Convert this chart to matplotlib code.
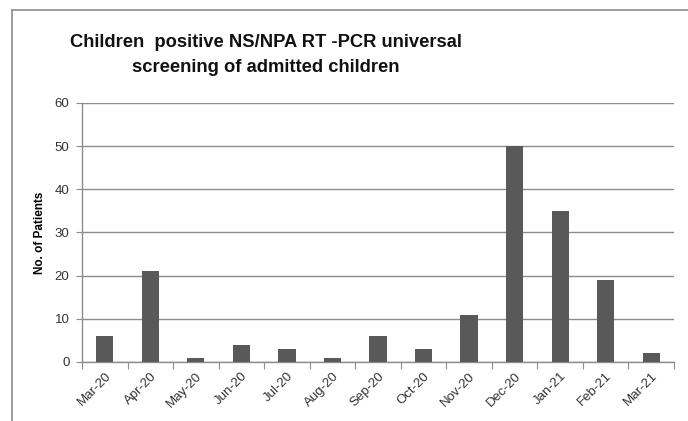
import numpy as np
import matplotlib
matplotlib.use("Agg")
import matplotlib.pyplot as plt
from matplotlib.lines import Line2D

plt.rcParams['font.family'] = ['Liberation Sans', 'DejaVu Sans']

# data
months = ['Mar-20', 'Apr-20', 'May-20', 'Jun-20', 'Jul-20', 'Aug-20', 'Sep-20',
          'Oct-20', 'Nov-20', 'Dec-20', 'Jan-21', 'Feb-21', 'Mar-21']
patients = [6, 21, 1, 4, 3, 1, 6, 3, 11, 50, 35, 19, 2]
yticks = [0, 10, 20, 30, 40, 50, 60]

W, H = 688, 421
fig = plt.figure(figsize=(W / 100, H / 100), dpi=100)
ax = fig.add_axes([82 / W, 1 - 362 / H, (674 - 82) / W, (362 - 103) / H])

grid_c = '#8c8c8c'
x = np.arange(len(months))
ax.bar(x, patients, width=0.38, color='#595959', zorder=3)

ax.set_xlim(-0.5, len(months) - 0.5)
ax.set_ylim(0, 60)
ax.set_yticks(yticks)
ax.yaxis.grid(True, color=grid_c, linewidth=1.0, zorder=0)
for s in ['top', 'right']:
    ax.spines[s].set_visible(False)
for s in ['left', 'bottom']:
    ax.spines[s].set_color(grid_c)
    ax.spines[s].set_linewidth(1.0)

# category ticks sit between the bars
ax.set_xticks(np.arange(-0.5, len(months) + 0.5, 1.0), minor=False)
ax.set_xticklabels([])
ax.set_xticks(x, minor=True)
ax.set_xticklabels(months, minor=True, rotation=45, ha='right',
                   rotation_mode='anchor', fontsize=9.5, color='#333333')
ax.tick_params(axis='x', which='major', length=5, color=grid_c, direction='out')
ax.tick_params(axis='x', which='minor', length=0, pad=6)
ax.tick_params(axis='y', length=4, color=grid_c, labelsize=9.5,
               labelcolor='#333333', pad=5)

ax.set_ylabel('No. of Patients', fontsize=8.5, fontweight='bold')
ax.yaxis.set_label_coords(-0.06, 0.5)

# title
fig.text(266 / W, 1 - 55 / H,
         'Children  positive NS/NPA RT -PCR universal\nscreening of admitted children',
         ha='center', va='center', fontsize=13.2, fontweight='bold',
         color='#111111', linespacing=1.6)

# outer chart frame (only top and left are visible)
fig.add_artist(Line2D([12 / W, 1], [1 - 10 / H, 1 - 10 / H],
                      transform=fig.transFigure, color='#8c8c8c', linewidth=1.2))
fig.add_artist(Line2D([12 / W, 12 / W], [0, 1 - 10 / H],
                      transform=fig.transFigure, color='#8c8c8c', linewidth=1.2))

fig.savefig('out.png', dpi=100, facecolor='white')
